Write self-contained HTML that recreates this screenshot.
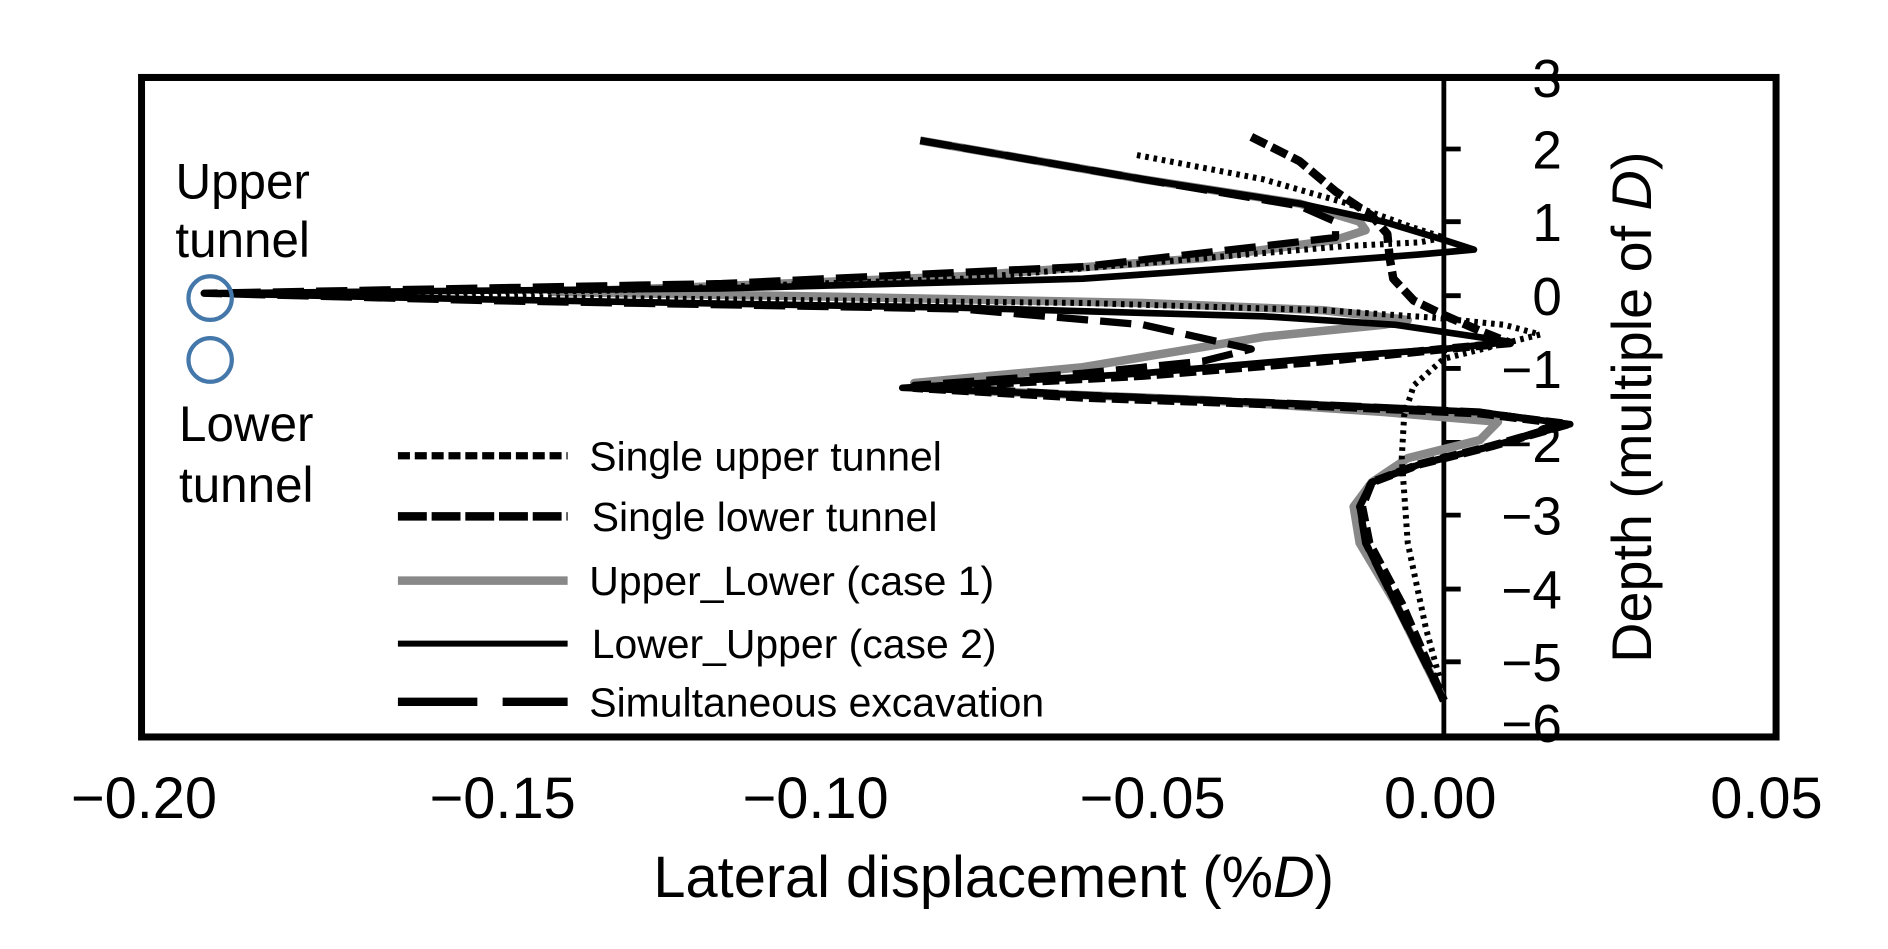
<!DOCTYPE html>
<html><head><style>
html,body{margin:0;padding:0;background:#fff;}
svg{display:block;}
text{font-family:"Liberation Sans",Arial,sans-serif;fill:#000;}
</style></head><body>
<svg width="1888" height="949" viewBox="0.4 2.1 1568.6 782.8" preserveAspectRatio="none" xmlns="http://www.w3.org/2000/svg">
<rect x="118" y="66" width="1358" height="544" fill="none" stroke="#000" stroke-width="5.8"/>
<line x1="1200" y1="66" x2="1200" y2="610" stroke="#000" stroke-width="4"/>
<g stroke="#000" stroke-width="4">
<line x1="1200" x2="1214" y1="125" y2="125"/><line x1="1200" x2="1214" y1="185" y2="185"/>
<line x1="1200" x2="1214" y1="246" y2="246"/><line x1="1200" x2="1214" y1="306" y2="306"/>
<line x1="1200" x2="1214" y1="367" y2="367"/><line x1="1200" x2="1214" y1="427" y2="427"/>
<line x1="1200" x2="1214" y1="488" y2="488"/><line x1="1200" x2="1214" y1="548" y2="548"/>
</g>
<g stroke-linejoin="round">
<polyline fill="none" stroke="#888" stroke-width="7" points="765,118 950,150 1080,170 1130,185 1135,192 1110,200 1000,215 800,230 600,238 460,243 700,247 950,252 1100,258 1170,266 1150,270 1050,280 900,305 760,318 800,324 1000,332 1150,342 1245,350 1230,365 1170,380 1140,400 1125,420 1130,450 1160,500 1200,580"/>
<polyline fill="none" stroke="#000" stroke-width="5.5" points="765,118 950,150 1080,170 1150,185 1200,200 1225,208 1180,212 1100,218 900,232 600,240 170,244 400,249 800,256 1050,263 1160,270 1255,284 1200,290 1100,297 950,310 750,322 900,328 1100,336 1230,342 1305,352 1240,370 1180,385 1140,400 1130,420 1135,450 1160,500 1200,580"/>
<polyline fill="none" stroke="#000" stroke-width="6" stroke-dasharray="26,10" points="765,118 950,150 1080,172 1110,185 1110,198 1050,205 900,222 600,236 170,244 400,250 800,257 950,270 1040,290 1000,300 900,310 760,320 900,328 1100,336 1230,342 1300,352 1240,370 1180,385 1140,400 1130,420 1135,450 1160,500 1200,580"/>
<polyline fill="none" stroke="#000" stroke-width="7" stroke-dasharray="14,5" points="1040,115 1080,135 1110,160 1140,180 1153,195 1155,215 1158,232 1175,250 1200,262 1230,275 1255,285 1200,290 1100,300 950,312 760,322 900,330 1100,337 1230,343 1303,352 1240,370 1180,385 1140,400 1132,420 1138,450 1165,500 1200,580"/>
<polyline fill="none" stroke="#000" stroke-width="5" stroke-dasharray="3,4" points="945,130 1050,150 1120,170 1175,190 1200,198 1180,202 1120,205 1000,215 800,232 500,242 170,244 500,248 900,252 1100,258 1190,264 1250,270 1280,278 1240,288 1200,298 1175,320 1167,345 1165,380 1170,450 1185,520 1196,560"/>
</g>
<g font-size="44" text-anchor="end">
<text x="1298" y="82">3</text><text x="1298" y="141">2</text><text x="1298" y="201">1</text>
<text x="1298" y="262">0</text><text x="1298" y="322">−1</text><text x="1298" y="383">−2</text>
<text x="1298" y="443">−3</text><text x="1298" y="504">−4</text><text x="1298" y="564">−5</text>
<text x="1298" y="614">−6</text>
</g>
<text transform="translate(1372,338) rotate(-90)" font-size="46" text-anchor="middle">Depth (multiple of <tspan font-style="italic">D</tspan>)</text>
<g font-size="48" text-anchor="middle">
<text x="120" y="677">−0.20</text><text x="418" y="677">−0.15</text><text x="678" y="677">−0.10</text>
<text x="958" y="677">−0.05</text><text x="1197" y="677">0.00</text><text x="1468" y="677">0.05</text>
<text x="826" y="742">Lateral displacement (%<tspan font-style="italic">D</tspan>)</text>
</g>
<g font-size="41" text-anchor="middle">
<text x="202" y="166">Upper</text><text x="202" y="214">tunnel</text>
<text x="205" y="366">Lower</text><text x="205" y="416">tunnel</text>
</g>
<circle cx="175" cy="248" r="18" fill="none" stroke="#4477aa" stroke-width="3.5"/>
<circle cx="175" cy="299" r="18" fill="none" stroke="#4477aa" stroke-width="3.5"/>
<g fill="none">
<line x1="331" x2="472" y1="378" y2="378" stroke="#000" stroke-width="6" stroke-dasharray="10,4"/>
<line x1="331" x2="472" y1="428" y2="428" stroke="#000" stroke-width="7" stroke-dasharray="24,4"/>
<line x1="331" x2="472" y1="481" y2="481" stroke="#888" stroke-width="7"/>
<line x1="331" x2="472" y1="533" y2="533" stroke="#000" stroke-width="5"/>
<line x1="331" x2="472" y1="581" y2="581" stroke="#000" stroke-width="7" stroke-dasharray="66,21"/>
</g>
<g font-size="34">
<text x="490" y="390">Single upper tunnel</text>
<text x="492" y="440">Single lower tunnel</text>
<text x="490" y="493">Upper_Lower (case 1)</text>
<text x="492" y="545">Lower_Upper (case 2)</text>
<text x="490" y="593">Simultaneous excavation</text>
</g>
</svg>
</body></html>
